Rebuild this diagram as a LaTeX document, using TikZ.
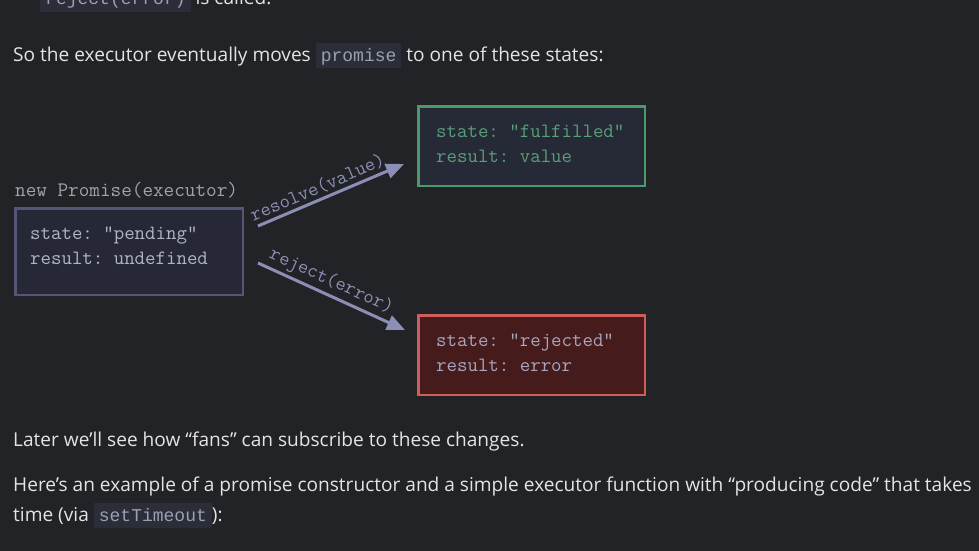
\documentclass[tikz,border=0pt]{standalone}
\usepackage{fontspec}
\setmainfont{Open Sans}
\newfontfamily\codefont{Liberation Mono}
\usetikzlibrary{arrows.meta}
\definecolor{pagebg}{HTML}{222327}
\definecolor{bodytext}{HTML}{E4E4E6}
\definecolor{codebg}{HTML}{2B2D38}
\definecolor{codetext}{HTML}{9AA0B4}
\definecolor{graylabel}{HTML}{A2A2AA}
\definecolor{pendfill}{HTML}{262838}
\definecolor{pendline}{HTML}{555673}
\definecolor{pendtext}{HTML}{B2B5C8}
\definecolor{fulfill}{HTML}{262A36}
\definecolor{fulline}{HTML}{4C9A6A}
\definecolor{fultext}{HTML}{5A9E7A}
\definecolor{rejfill}{HTML}{461B1B}
\definecolor{rejline}{HTML}{D05C5C}
\definecolor{rejtext}{HTML}{A8A6C0}
\definecolor{arrowcol}{HTML}{8B8FB5}
\newcommand{\inlcode}[1]{{\setlength{\fboxsep}{0pt}\colorbox{codebg}{\hspace{5pt}\rule[-7pt]{0pt}{25pt}\textcolor{codetext}{\codefont\fontsize{18}{20}\selectfont #1}\hspace{5pt}}}}
\tikzset{
  para/.style={anchor=base west, inner sep=0pt, text=bodytext, font=\fontsize{19.1}{22}\selectfont\frenchspacing},
  statebox/.style={draw, line width=2.5pt, anchor=north west, inner sep=0pt},
  boxtext/.style={anchor=base west, inner sep=0pt, font=\ttfamily\fontsize{20.3}{24}\selectfont\frenchspacing},
  transition/.style={draw=arrowcol, line width=3pt, -{Triangle[length=18pt,width=15pt]}},
  translabel/.style={sloped, above, inner sep=3pt, text=arrowcol, font=\ttfamily\fontsize{20}{22}\selectfont\frenchspacing}
}
\begin{document}
\begin{tikzpicture}[x=1pt,y=-1pt]
\useasboundingbox[fill=pagebg] (0,0) rectangle (979,551);
\begin{scope}
\clip (0,0) rectangle (979,551);
\node[para] (topline) at (40,5) {\inlcode{reject(error)} is called.};
\end{scope}
\node[para] (intro) at (13,61) {So the executor eventually moves \inlcode{promise} to one of these states:};

% diagram
\node[anchor=base west, inner sep=0pt, text=graylabel, font=\ttfamily\fontsize{20.6}{24}\selectfont] (ctor) at (15,196) {new Promise(executor)};

\node[statebox, draw=pendline, fill=pendfill, minimum width=227.5pt, minimum height=86.5pt] (pending) at (14.25,207.25) {};
\node[boxtext, text=pendtext] (pend1) at (30,239) {state: "pending"};
\node[boxtext, text=pendtext] (pend2) at (30,264) {result: undefined};

\node[statebox, draw=fulline, fill=fulfill, minimum width=226.5pt, minimum height=79.5pt] (fulfilled) at (417.25,105.25) {};
\node[boxtext, text=fultext] (ful1) at (436,137) {state: "fulfilled"};
\node[boxtext, text=fultext] (ful2) at (436,162) {result: value};

\node[statebox, draw=rejline, fill=rejfill, minimum width=226.5pt, minimum height=79.5pt] (rejected) at (417.25,314.25) {};
\node[boxtext, text=rejtext] (rej1) at (436,346) {state: "rejected"};
\node[boxtext, text=rejtext] (rej2) at (436,371) {result: error};

\coordinate (resA) at (258,226);
\coordinate (resB) at (404,164);
\coordinate (rejA) at (258,263);
\coordinate (rejB) at (405,330);
\draw[transition] (resA) -- node[translabel, pos=0.44] (reslabel) {resolve(value)} (resB);
\draw[transition] (rejA) -- node[translabel, pos=0.46] (rejlabel) {reject(error)} (rejB);

\node[para] (later) at (13,446) {Later we’ll see how “fans” can subscribe to these changes.};
\node[para] (here) at (13,491) {Here’s an example of a promise constructor and a simple executor function with “producing code” that takes};
\node[para] (time) at (13,521) {time (via \inlcode{setTimeout}):};
\end{tikzpicture}
\end{document}
